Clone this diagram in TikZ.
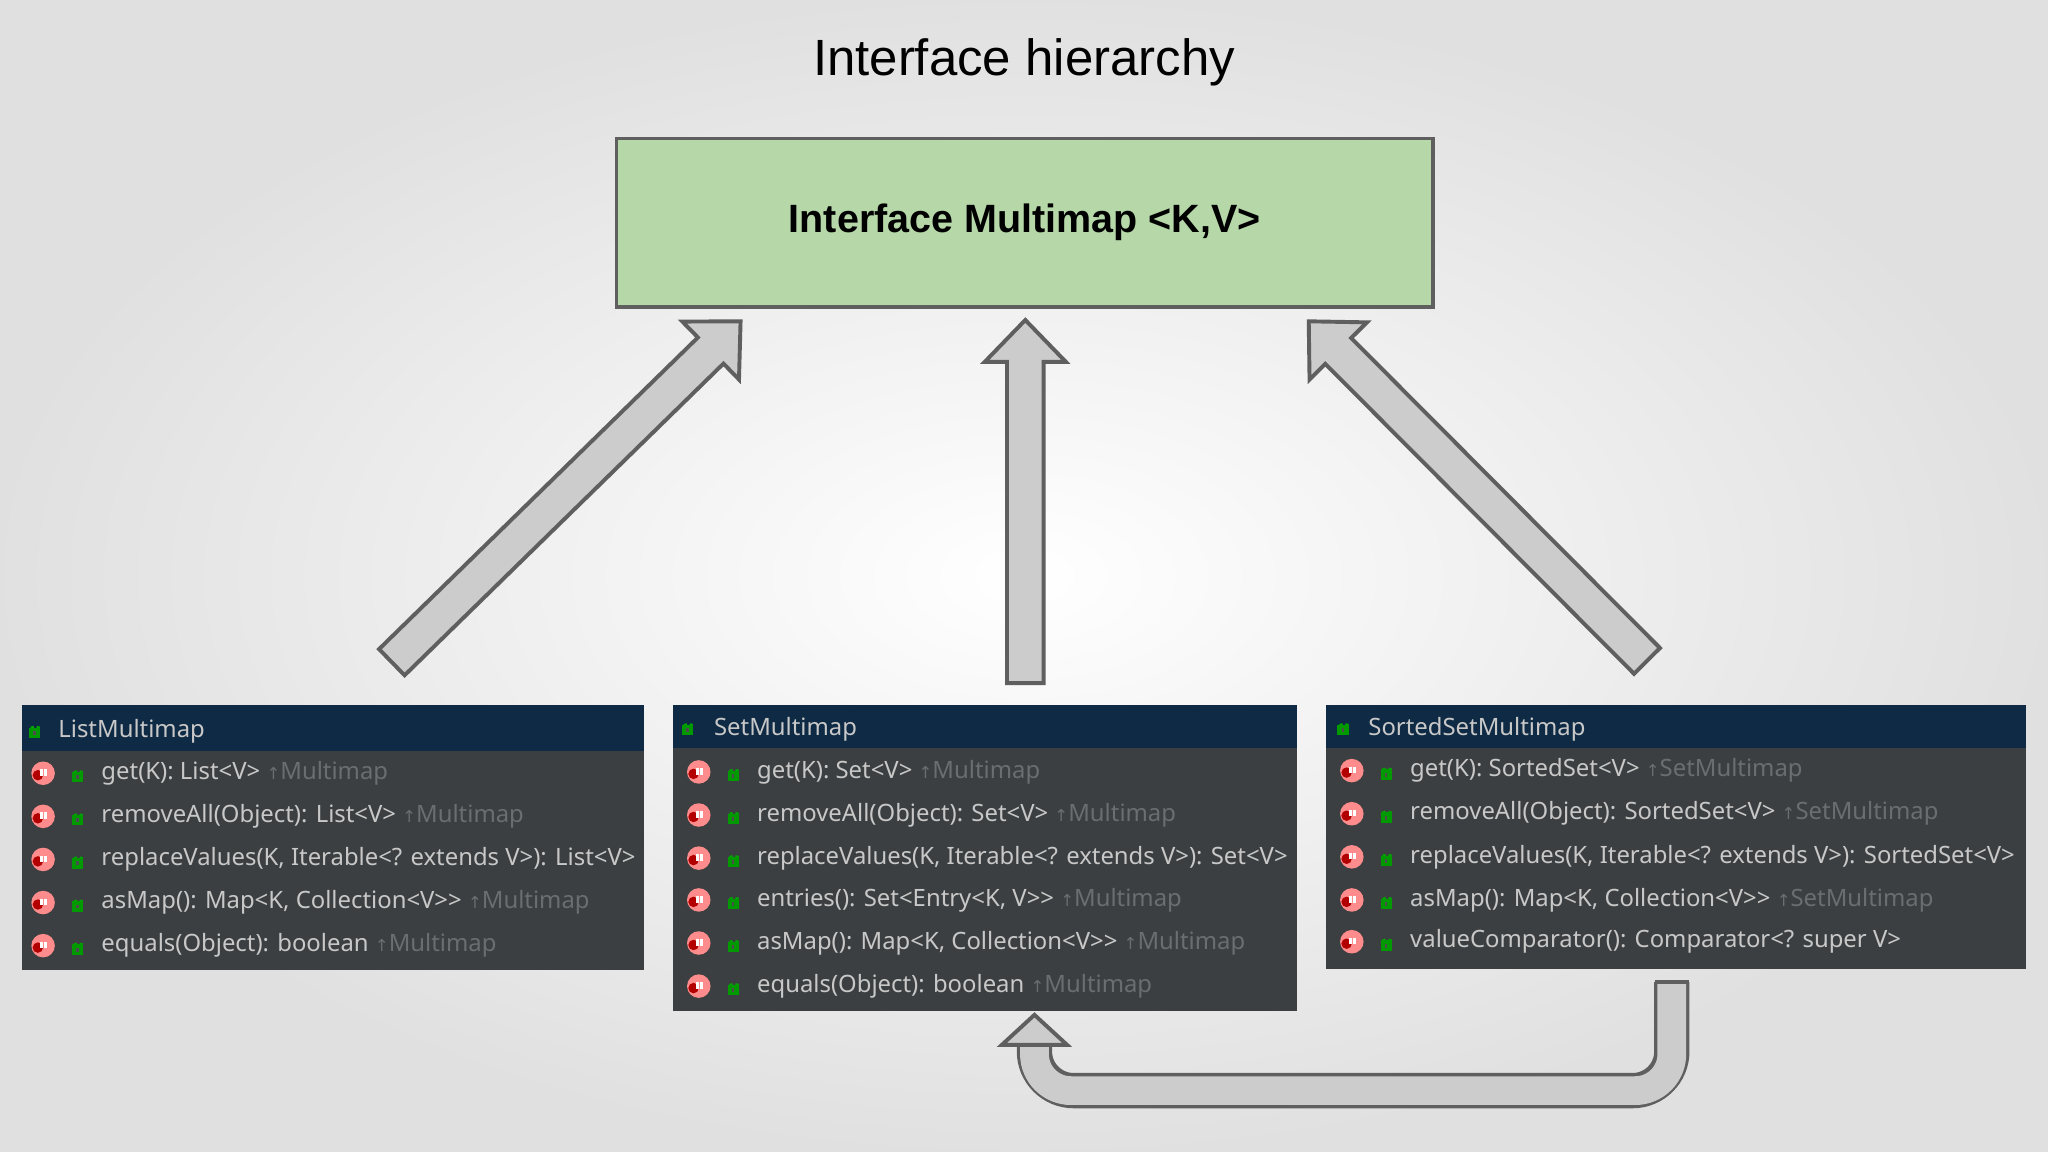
\documentclass[tikz,border=0pt]{standalone}
\usepackage{fontspec}
\setmainfont{Liberation Sans}
\newfontfamily\ide{Noto Sans}
\newfontfamily\arw{DejaVu Sans}
\usetikzlibrary{calc}
\definecolor{panel}{HTML}{3C3F41}
\definecolor{hdr}{HTML}{0E2A44}
\definecolor{txt}{HTML}{C8C8C8}
\definecolor{sec}{HTML}{6A6E70}
\definecolor{boxg}{HTML}{B6D7A8}
\definecolor{edge}{HTML}{5F5F5F}
\definecolor{arr}{HTML}{CCCCCC}
\tikzset{
 pnl/.style={fill=panel,draw=none},
 hd/.style={fill=hdr,draw=none},
 rowt/.style={anchor=west,inner sep=0pt,text=txt,font=\ide\fontsize{5.2}{6}\selectfont},
 blk/.style={fill=arr,draw=edge,line width=0.3mm,line join=miter},
}
\newcommand\up{{\arw\fontsize{3.6}{4}\selectfont↑}}
\newcommand\lockicon[1]{%
 \draw[draw=green!65!black,line width=0.25mm] ($(#1)+(-1.5,-2)$) arc(180:0:2.5 and 4);
 \fill[green!60!black] ($(#1)+(-4,-1)$) rectangle ($(#1)+(4.5,7)$);
 \fill[black!70] ($(#1)+(-0.7,1.5)$) rectangle ($(#1)+(1.2,4.5)$);}
\newcommand\mrow[5]{% name, x, y, main, secondary
 \fill[red!45!white] (#2+16,#3) circle (9);
 \fill[red!70!black] (#2+12,#3+1.5) circle (4);
 \draw[white,line width=0.25mm] (#2+15,#3+2) -- (#2+15,#3-3) (#2+18,#3+2) -- (#2+18,#3-3);
 \coordinate (#1l) at (#2+42,#3);
 \lockicon{#1l}
 \node[rowt] (#1) at (#2+60,#3) {#4\ \textcolor{sec}{#5}};}
\newcommand\blockarrow[4]{% tail, tip, shaft half width, head half width
 \path ($(#2)!3.2mm!(#1)$) coordinate (B);
 \filldraw[blk] ($(#1)!#3!90:(#2)$) -- ($(B)!#3!90:(#2)$) -- ($(B)!#4!90:(#2)$) -- (#2)
   -- ($(B)!#4!-90:(#2)$) -- ($(B)!#3!-90:(#2)$) -- ($(#1)!#3!-90:(#2)$) -- cycle;}
\begin{document}
\begin{tikzpicture}[x=0.1mm,y=-0.1mm]
\useasboundingbox (0,0) rectangle (1568,882);
\shade[inner color=white,outer color=black!12] (0,0) rectangle (1568,882);
\node (title) at (784,48) {\fontsize{11.1}{13}\selectfont Interface hierarchy};
\node[draw=edge,fill=boxg,line width=0.3mm,minimum width=62.5mm,minimum height=12.9mm,inner sep=0pt,font=\bfseries\fontsize{8.6}{10}\selectfont] (mm) at (784.5,170.5) {Interface Multimap <K,V>};

% block arrows
\coordinate (t1) at (300,507); \coordinate (p1) at (567,246);
\coordinate (t2) at (785,523); \coordinate (p2) at (785,245);
\coordinate (t3) at (1261,506); \coordinate (p3) at (1002,246);
\blockarrow{t1}{p1}{1.4mm}{3.1mm}
\blockarrow{t2}{p2}{1.4mm}{3.1mm}
\blockarrow{t3}{p3}{1.4mm}{3.1mm}

% ListMultimap
\fill[pnl] (17,540) rectangle (493,743);
\fill[hd] (17,540) rectangle (493,575);
\coordinate (lh) at (26,558); \lockicon{lh}
\node[rowt] (lt) at (44,560) {ListMultimap};
\mrow{l1}{17}{592}{get(K): List<V>}{\up Multimap}
\mrow{l2}{17}{625}{removeAll(Object): List<V>}{\up Multimap}
\mrow{l3}{17}{658}{replaceValues(K, Iterable<? extends V>): List<V>}{}
\mrow{l4}{17}{691}{asMap(): Map<K, Collection<V>>}{\up Multimap}
\mrow{l5}{17}{724}{equals(Object): boolean}{\up Multimap}

% SetMultimap
\fill[pnl] (515,540) rectangle (993,774);
\fill[hd] (515,540) rectangle (993,573);
\coordinate (sh) at (526,556); \lockicon{sh}
\node[rowt] (st) at (546,558) {SetMultimap};
\mrow{s1}{519}{591}{get(K): Set<V>}{\up Multimap}
\mrow{s2}{519}{624}{removeAll(Object): Set<V>}{\up Multimap}
\mrow{s3}{519}{657}{replaceValues(K, Iterable<? extends V>): Set<V>}{}
\mrow{s4}{519}{689}{entries(): Set<Entry<K, V>>}{\up Multimap}
\mrow{s5}{519}{722}{asMap(): Map<K, Collection<V>>}{\up Multimap}
\mrow{s6}{519}{755}{equals(Object): boolean}{\up Multimap}

% SortedSetMultimap
\fill[pnl] (1015,540) rectangle (1551,742);
\fill[hd] (1015,540) rectangle (1551,573);
\coordinate (oh) at (1028,556); \lockicon{oh}
\node[rowt] (ot) at (1047,558) {SortedSetMultimap};
\mrow{o1}{1019}{590}{get(K): SortedSet<V>}{\up SetMultimap}
\mrow{o2}{1019}{623}{removeAll(Object): SortedSet<V>}{\up SetMultimap}
\mrow{o3}{1019}{656}{replaceValues(K, Iterable<? extends V>): SortedSet<V>}{}
\mrow{o4}{1019}{689}{asMap(): Map<K, Collection<V>>}{\up SetMultimap}
\mrow{o5}{1019}{721}{valueComparator(): Comparator<? super V>}{}

% U arrow
\coordinate (u0) at (1280,752); \coordinate (u1) at (1280,835);
\coordinate (u2) at (792,835); \coordinate (u3) at (792,799);
\draw[edge,line width=2.7mm,rounded corners=3mm] (u0) -- (u1) -- (u2) -- (u3);
\draw[arr,line width=2.2mm,rounded corners=2.8mm] ($(u0)+(0,1.5)$) -- (u1) -- (u2) -- ($(u3)+(0,-2)$);
\draw[edge,line width=0.3mm] (1267,752) -- (1293,752);
\coordinate (uh) at (792,777);
\filldraw[blk] (767,800) -- (uh) -- (817,800) -- (805,800) -- (779,800) -- cycle;
\end{tikzpicture}
\end{document}
